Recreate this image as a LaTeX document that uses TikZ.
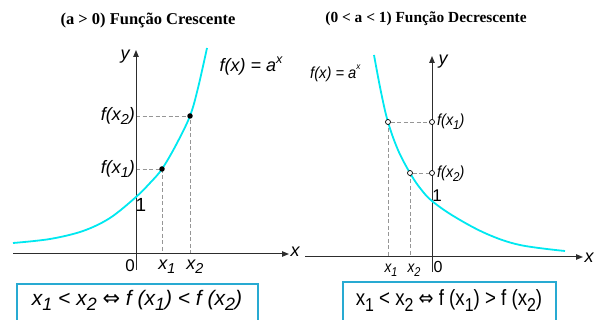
\documentclass[tikz,border=0pt]{standalone}
\usepackage{fontspec}
\usepackage{graphicx}
\setmainfont{Liberation Sans}
\newfontfamily\titlefont{Liberation Serif}
\newfontfamily\symfont{DejaVu Sans}
\usetikzlibrary{arrows.meta}
\definecolor{curvecol}{RGB}{0,232,240}
\definecolor{boxcol}{RGB}{40,170,210}
\definecolor{axiscol}{RGB}{45,45,45}
\definecolor{dashcol}{RGB}{150,150,150}
\newcommand\lsub[1]{\raisebox{-0.45ex}{\scalebox{0.8}{#1}}}
\newcommand\bsub[1]{\raisebox{-0.45ex}{\scalebox{0.85}{#1}}}
\newcommand\eqvsym{{\upshape\symfont\fontsize{21}{21}\selectfont ⇔}}
\begin{document}
\begin{tikzpicture}[x=1pt,y=-1pt,
  axis/.style={draw=axiscol, line width=1pt, -{Triangle[length=7pt,width=5.5pt]}},
  curve/.style={draw=curvecol, line width=1.8pt},
  guide/.style={draw=dashcol, line width=0.9pt, dash pattern=on 4pt off 2.5pt},
  dotfill/.style={circle, fill=black, inner sep=0pt, minimum size=5.5pt},
  dotopen/.style={circle, draw=black, fill=white, line width=0.7pt, inner sep=0pt, minimum size=5pt},
  ttl/.style={font=\titlefont\bfseries\fontsize{16.5}{16.5}\selectfont, inner sep=0pt},
  lbl/.style={font=\itshape\fontsize{18}{18}\selectfont, inner sep=0pt},
  rlbl/.style={font=\itshape\fontsize{16}{16}\selectfont, inner sep=0pt},
  eqbox/.style={draw=boxcol, line width=1.6pt, inner sep=0pt},
  eqtext/.style={inner sep=0pt}
]
\useasboundingbox (0,0) rectangle (598,320);

% titles
\node[ttl] (t1) at (148,21) {(a > 0) Função Crescente};
\node[ttl, font=\titlefont\bfseries\fontsize{15.4}{15.4}\selectfont] (t2) at (426,19) {(0 < a < 1) Função Decrescente};

% ---------- left graph ----------
\coordinate (Lx0) at (13,254);
\coordinate (Lx1) at (289,254);
\coordinate (Ly0) at (136,270);
\coordinate (Ly1) at (136,50);
\coordinate (Lh1) at (136,169);
\coordinate (Lh2) at (136,116);
\coordinate (Lb1) at (162,254);
\coordinate (Lb2) at (190,254);

\draw[guide] (Lh1) -- (162,169) -- (Lb1);
\draw[guide] (Lh2) -- (190,116) -- (Lb2);
\draw[axis] (Lx0) -- (Lx1);
\draw[axis] (Ly0) -- (Ly1);
\draw[curve] plot[smooth, tension=0.55] coordinates {(13,243) (50,239) (83,231) (110,218) (136,197) (150,183) (162,169) (176,145) (190,116) (198,88) (207,48)};
\node[dotfill] (LP1) at (162,169) {};
\node[dotfill] (LP2) at (190,116) {};

\node[lbl] (Lfx) at (251,66) {f(x) = a\raisebox{0.9ex}{\scalebox{0.7}{x}}};
\node[lbl, anchor=east] (Lf2) at (135,116) {f(x\lsub{2})};
\node[lbl, anchor=east] (Lf1) at (135,169) {f(x\lsub{1})};
\node[lbl, font=\fontsize{19}{19}\selectfont] (L1) at (141,205) {1};
\node[lbl] (Ly) at (125,57) {y};
\node[lbl] (Lx) at (295,252) {x};
\node[lbl, font=\fontsize{17}{17}\selectfont] (L0) at (130,266) {0};
\node[lbl] (Lx1l) at (167,267) {x\lsub{1}};
\node[lbl] (Lx2l) at (195,267) {x\lsub{2}};

\node[eqbox, minimum width=241pt, minimum height=40pt] (Lbox) at (137.5,304) {};
\node[eqtext, font=\itshape\fontsize{21}{21}\selectfont] (Leq) at (137,300.5)
  {x\bsub{1} < x\bsub{2} \eqvsym{} f (x\bsub{1}) < f (x\bsub{2})};

% ---------- right graph ----------
\coordinate (Rx0) at (305,257);
\coordinate (Rx1) at (583,257);
\coordinate (Ry0) at (432,272);
\coordinate (Ry1) at (432,56);
\coordinate (Rb1) at (388,257);
\coordinate (Rb2) at (410,257);

\draw[guide] (388,122) -- (Rb1);
\draw[guide] (410,173) -- (Rb2);
\draw[axis] (Rx0) -- (Rx1);
\draw[axis] (Ry0) -- (Ry1);
\draw[curve] plot[smooth, tension=0.6] coordinates {(374,55) (381,92) (388,122) (398,150) (410,173) (420,188) (432,201) (455,217) (487,234) (520,245) (565,251)};
\node[dotopen] (RP1) at (388,122) {};
\node[dotopen] (RP2) at (410,173) {};
\node[dotopen] (RH1) at (432,122) {};
\node[dotopen] (RH2) at (432,173) {};
\draw[guide] (RP1) -- (RH1);
\draw[guide] (RP2) -- (RH2);

\node[rlbl, anchor=west] (Rfx) at (310,73) {\scalebox{0.92}[1]{f(x) = a\raisebox{1.1ex}{\scalebox{0.55}{x}}}};
\node[rlbl, anchor=west] (Rf1) at (437,122) {\scalebox{0.9}[1]{f(x\lsub{1})}};
\node[rlbl, anchor=west] (Rf2) at (437,174) {\scalebox{0.9}[1]{f(x\lsub{2})}};
\node[rlbl, font=\fontsize{17}{17}\selectfont] (R1) at (437,196) {1};
\node[rlbl, font=\itshape\fontsize{18}{18}\selectfont] (Ry) at (443,62) {y};
\node[rlbl, font=\itshape\fontsize{18}{18}\selectfont] (Rx) at (589,258) {x};
\node[rlbl, font=\fontsize{16}{16}\selectfont] (R0) at (438,267) {0};
\node[rlbl] (Rx1l) at (391,270) {\scalebox{0.85}[1]{x\lsub{1}}};
\node[rlbl] (Rx2l) at (414,270) {\scalebox{0.85}[1]{x\lsub{2}}};

\node[eqbox, minimum width=213pt, minimum height=42pt] (Rbox) at (449.5,303) {};
\node[eqtext, font=\fontsize{22}{22}\selectfont] (Req) at (449,300.5)
  {\scalebox{0.85}[1]{x\bsub{1} < x\bsub{2} \eqvsym{} f (x\bsub{1}) > f (x\bsub{2})}};
\end{tikzpicture}
\end{document}
